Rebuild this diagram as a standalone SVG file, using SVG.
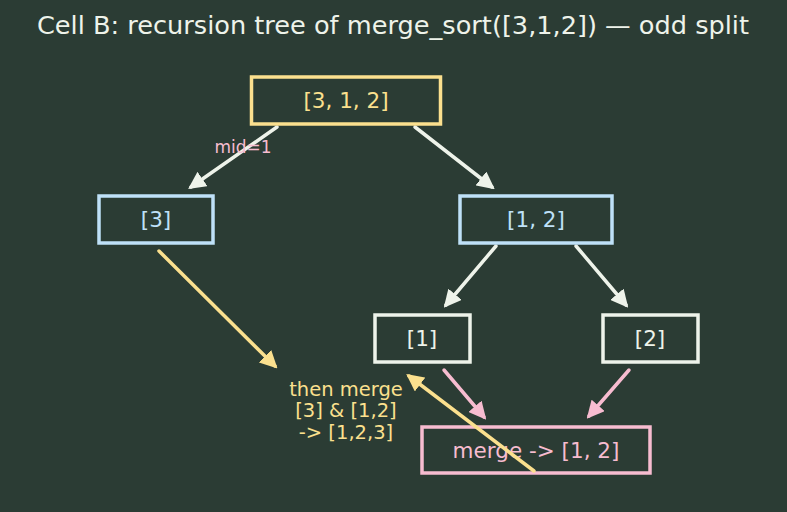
<svg xmlns="http://www.w3.org/2000/svg" width="787" height="512" viewBox="0 0 787 512">
<defs>
<style>
text{font-family:"DejaVu Sans","Liberation Sans",sans-serif;text-anchor:middle;dominant-baseline:central}
.box{fill:#2b3c34;stroke-width:3.5}
.lbl{font-size:21.5px}
.e{fill:none;stroke-width:3.5;stroke-linecap:round}
</style>
<marker id="aw" viewBox="0 0 10 10" refX="8" refY="5" markerWidth="5" markerHeight="5" orient="auto" markerUnits="strokeWidth"><path d="M0,0 L10,5 L0,10 z" fill="#eef3ea"/></marker>
<marker id="ay" viewBox="0 0 10 10" refX="8" refY="5" markerWidth="5" markerHeight="5" orient="auto" markerUnits="strokeWidth"><path d="M0,0 L10,5 L0,10 z" fill="#fbe08e"/></marker>
<marker id="ap" viewBox="0 0 10 10" refX="8" refY="5" markerWidth="5" markerHeight="5" orient="auto" markerUnits="strokeWidth"><path d="M0,0 L10,5 L0,10 z" fill="#f7bcd0"/></marker>
</defs>
<rect width="787" height="512" fill="#2b3c34"/>
<text x="393" y="25" font-size="25" fill="#eef3ea" textLength="712" lengthAdjust="spacingAndGlyphs">Cell B: recursion tree of merge_sort([3,1,2]) — odd split</text>
<g id="connectors">
<line class="e" x1="277" y1="127" x2="191" y2="187" stroke="#eef3ea" marker-end="url(#aw)"/>
<line class="e" x1="415" y1="127" x2="492" y2="187" stroke="#eef3ea" marker-end="url(#aw)"/>
<line class="e" x1="496" y1="246" x2="446" y2="305" stroke="#eef3ea" marker-end="url(#aw)"/>
<line class="e" x1="576" y1="246" x2="626" y2="305" stroke="#eef3ea" marker-end="url(#aw)"/>
<line class="e" x1="159" y1="251" x2="275" y2="366" stroke="#fbe08e" marker-end="url(#ay)"/>
<line class="e" x1="444" y1="370" x2="484" y2="417" stroke="#f7bcd0" marker-end="url(#ap)"/>
<line class="e" x1="629" y1="370" x2="589" y2="416" stroke="#f7bcd0" marker-end="url(#ap)"/>
</g>
<g id="n_root"><rect class="box" x="251.5" y="77" width="189" height="47" stroke="#fbe08e"/><text class="lbl" x="346" y="100" fill="#fbe08e">[3, 1, 2]</text></g>
<g id="n_3"><rect class="box" x="99" y="196" width="114" height="47" stroke="#bfe1f8"/><text class="lbl" x="156" y="219" fill="#bfe1f8">[3]</text></g>
<g id="n_12"><rect class="box" x="460" y="196" width="152" height="47" stroke="#bfe1f8"/><text class="lbl" x="536" y="219" fill="#bfe1f8">[1, 2]</text></g>
<g id="n_1"><rect class="box" x="375" y="315" width="95" height="47" stroke="#eef3ea"/><text class="lbl" x="422" y="338" fill="#eef3ea">[1]</text></g>
<g id="n_2"><rect class="box" x="603" y="315" width="95" height="47" stroke="#eef3ea"/><text class="lbl" x="650" y="338" fill="#eef3ea">[2]</text></g>
<g id="n_merge"><rect class="box" x="422" y="427" width="228" height="46" stroke="#f7bcd0"/><text class="lbl" x="536" y="450" fill="#f7bcd0">merge -&gt; [1, 2]</text></g>
<g id="back_edge"><line class="e" x1="534" y1="471" x2="409" y2="376" stroke="#fbe08e" marker-end="url(#ay)"/></g>
<text x="243" y="147" font-size="17" fill="#f7bcd0">mid=1</text>
<g fill="#fbe08e" font-size="19.5">
<text x="346" y="389">then merge</text>
<text x="346" y="410">[3] &amp; [1,2]</text>
<text x="346" y="432">-&gt; [1,2,3]</text>
</g>
</svg>
